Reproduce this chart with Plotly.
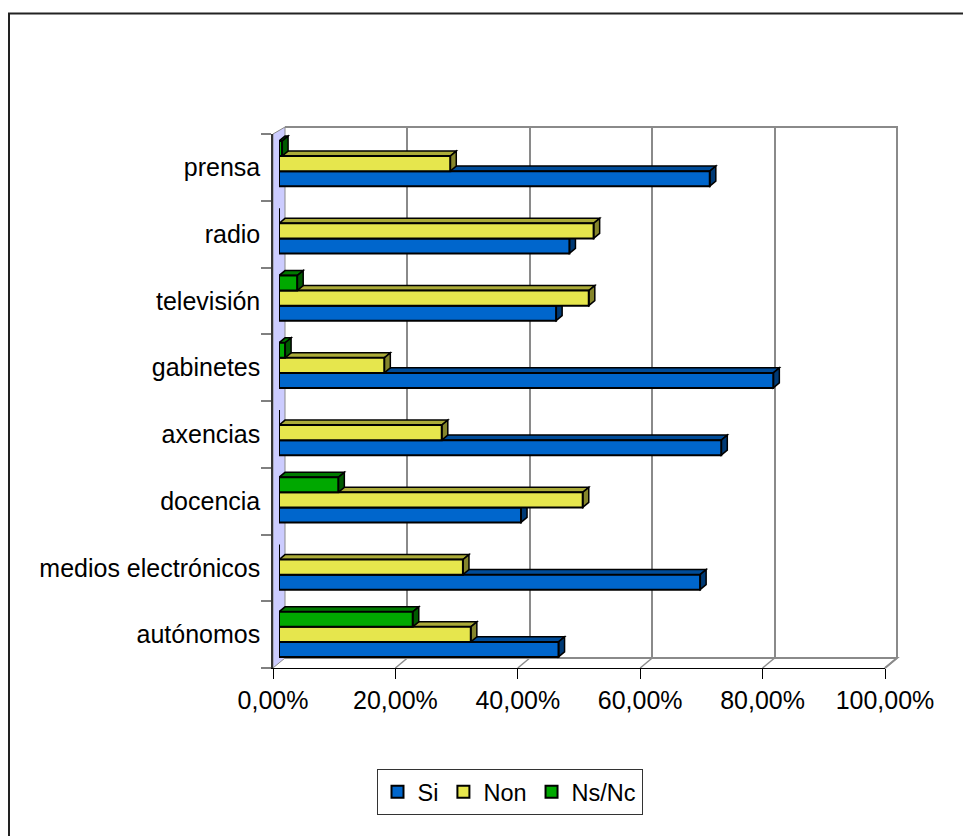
import plotly.graph_objects as go

# ---------------- data ----------------
categories = ["autónomos", "medios electrónicos", "docencia", "axencias",
              "gabinetes", "televisión", "radio", "prensa"]
series_names = ["Si", "Non", "Ns/Nc"]
si_values = [46.2, 69.6, 40.0, 73.1, 81.7, 45.8, 48.0, 71.2]
non_values = [31.7, 30.4, 50.2, 26.9, 17.4, 51.2, 52.0, 28.3]
nsnc_values = [22.1, 0.0, 9.8, 0.0, 1.0, 3.0, 0.0, 0.5]
tick_values = [0, 20, 40, 60, 80, 100]
tick_labels = ["0,00%", "20,00%", "40,00%", "60,00%", "80,00%", "100,00%"]

# ---------------- style ----------------
face_colors = ["#0066CC", "#E6E64D", "#00A800"]
top_colors = ["#004C99", "#ABAB38", "#007A00"]
side_colors = ["#003A75", "#85852B", "#005A00"]
FONT = "Liberation Sans, Arial, sans-serif"

W, H = 963, 836
L, R, T, B = 273, 897, 127, 668  # paper area in pixels


def X(px):
    return (px - L) / (R - L)


def Y(py):
    return (B - py) / (B - T)


BARGAP = 0.33
DX = 1.0      # depth offset in % units
DY = 0.075    # depth offset in category units

series = [si_values, non_values, nsnc_values]
positions = list(range(len(categories)))

fig = go.Figure()

# dummy traces to create the grid subplot and the label subplot
fig.add_trace(go.Scatter(x=[None], y=[None], xaxis="x", yaxis="y",
                         showlegend=False, hoverinfo="skip"))
fig.add_trace(go.Scatter(x=[None] * len(categories), y=categories, xaxis="x2", yaxis="y2",
                         mode="markers", showlegend=False, hoverinfo="skip"))

for k, (name, vals) in enumerate(zip(series_names, series)):
    fig.add_trace(go.Bar(
        x=vals, y=positions, orientation="h", name=name,
        xaxis="x3", yaxis="y3",
        marker=dict(color=face_colors[k], line=dict(color="black", width=2)),
    ))

# 3D faces of bars (computed from data, drawn under the bar fronts)
shapes = []
w = (1 - BARGAP) / 3
h = w / 2
for k, vals in enumerate(series):
    for c, v in zip(positions, vals):
        if v <= 0:
            continue
        yc = c - (1 - BARGAP) / 2 + w * (k + 0.5)
        top = f"M 0,{yc + h} L {DX},{yc + h + DY} L {v + DX},{yc + h + DY} L {v},{yc + h} Z"
        side = f"M {v},{yc - h} L {v + DX},{yc - h + DY} L {v + DX},{yc + h + DY} L {v},{yc + h} Z"
        shapes.append(dict(type="path", path=top, xref="x3", yref="y3", layer="between",
                           fillcolor=top_colors[k], line=dict(color="black", width=1.5)))
        shapes.append(dict(type="path", path=side, xref="x3", yref="y3", layer="between",
                           fillcolor=side_colors[k], line=dict(color="black", width=1.5)))

GRAY = "#8a8a8a"


def P(px, py):
    return f"{X(px)},{Y(py)}"


# left wall
shapes.append(dict(type="path", xref="paper", yref="paper", layer="below",
                   path=f"M {P(273,668)} L {P(273,134)} L {P(285,127)} L {P(285,658)} Z",
                   fillcolor="#CCCCFF", line=dict(color=GRAY, width=1)))
# back wall edges
shapes.append(dict(type="path", xref="paper", yref="paper", layer="below",
                   path=f"M {P(285,127)} L {P(897,127)} L {P(897,658)}",
                   line=dict(color=GRAY, width=2)))
# floor
shapes.append(dict(type="path", xref="paper", yref="paper", layer="below",
                   path=f"M {P(285,658)} L {P(897,658)} L {P(885,668)}",
                   line=dict(color=GRAY, width=2)))
for v in tick_values[1:]:
    fx = 273 + v / 100 * 612
    shapes.append(dict(type="line", xref="paper", yref="paper", layer="below",
                       x0=X(fx), y0=Y(668), x1=X(fx + 12), y1=Y(658),
                       line=dict(color=GRAY, width=1.5)))
# outer frame (right and bottom edges fall outside the picture)
shapes.append(dict(type="rect", xref="paper", yref="paper", layer="below",
                   x0=X(9), y0=Y(13.5), x1=X(966), y1=Y(845),
                   line=dict(color="#222222", width=2)))

fig.update_layout(
    width=W, height=H,
    margin=dict(l=L, r=W - R, t=T, b=H - B, pad=0),
    paper_bgcolor="white", plot_bgcolor="rgba(0,0,0,0)",
    barmode="group", bargap=BARGAP, bargroupgap=0,
    font=dict(family=FONT, size=25, color="black"),
    showlegend=True,
    legend=dict(orientation="h", x=X(509.5), xanchor="center", y=Y(769), yanchor="top",
                bordercolor="#333333", borderwidth=1, bgcolor="white",
                font=dict(family=FONT, size=23.5, color="black"),
                itemwidth=30, traceorder="normal"),
    hovermode=False,
    shapes=shapes,
    # grid subplot (back wall)
    xaxis=dict(domain=[X(285), X(897)], anchor="y", range=[0, 100],
               tickvals=tick_values, showticklabels=False, ticks="",
               showgrid=True, gridcolor=GRAY, gridwidth=1.5,
               zeroline=False, showline=False, fixedrange=True),
    yaxis=dict(domain=[Y(658), Y(127)], anchor="x", range=[0, 1],
               showgrid=False, zeroline=False, showticklabels=False, ticks="",
               showline=False, fixedrange=True),
    # front axes with labels
    xaxis2=dict(domain=[X(273), X(885)], anchor="y2", range=[0, 100],
                tickvals=tick_values, ticktext=tick_labels, ticks="outside",
                ticklen=10, tickwidth=1.2, tickcolor="black",
                showline=True, linecolor="black", linewidth=1.2,
                showgrid=False, zeroline=False, fixedrange=True,
                tickfont=dict(family=FONT, size=25, color="black")),
    yaxis2=dict(domain=[Y(668), Y(134)], anchor="x2", type="category",
                categoryorder="array", categoryarray=categories,
                range=[-0.5, len(categories) - 0.5],
                ticks="outside", tickson="boundaries", ticklen=10,
                tickwidth=1.5, tickcolor="#808080",
                showline=True, linecolor="#333333", linewidth=1.5,
                showgrid=False, zeroline=False, fixedrange=True,
                ticklabelstandoff=6,
                tickfont=dict(family=FONT, size=25, color="black")),
    # bars
    xaxis3=dict(domain=[X(279), X(884)], anchor="y3", range=[0, 100],
                visible=False, fixedrange=True),
    yaxis3=dict(domain=[Y(668), Y(130)], anchor="x3",
                range=[-0.5, len(categories) - 0.5],
                visible=False, fixedrange=True),
)

fig.write_html("out.html", config={"displayModeBar": False},
               post_script="document.body.style.margin='0';")
